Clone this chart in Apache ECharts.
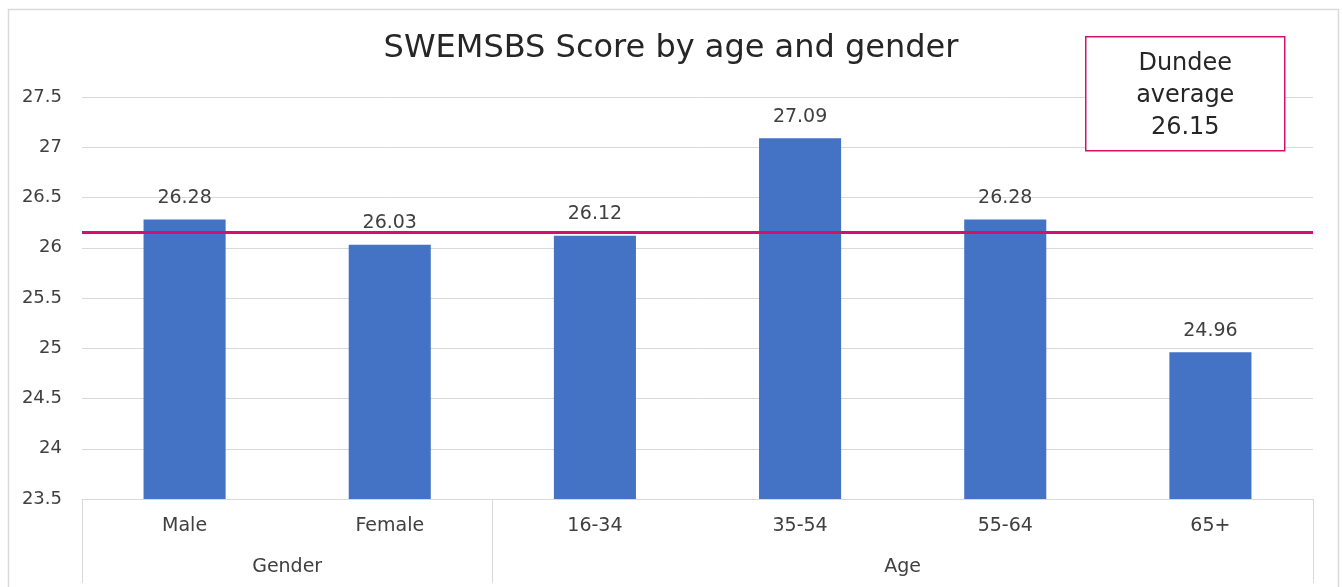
<!DOCTYPE html>
<html>
<head>
<meta charset="utf-8">
<script src="https://cdn.jsdelivr.net/npm/echarts@6/dist/echarts.min.js"></script>
<style>
  html, body { margin: 0; padding: 0; background: #ffffff; }
  #chart { width: 1342px; height: 587px; }
</style>
</head>
<body>
<div id="chart"></div>
<script>
// Mean SWEMWBS scores by gender and age band
const categories = ['Male', 'Female', '16-34', '35-54', '55-64', '65+'];
const scores = [26.28, 26.03, 26.12, 27.09, 26.28, 24.96];
// Group headings on the lower axis row: [label, first index, last index]
const groups = [['Gender', 0, 1], ['Age', 2, 5]];
const cityAverage = 26.15;
const yTicks = { min: 23.5, max: 27.5, step: 0.5 };

const FONT = '"DejaVu Sans", sans-serif';
const GRID_COLOR = '#d9d9d9';
const TEXT_COLOR = '#404040';
const AVG_COLOR = '#d4106f';

// Positions of the group headings and of the group separators on a 0..n scale
const groupLabelPos = groups.map(g => (g[1] + g[2] + 1) / 2);
const groupEdges = [0].concat(groups.map(g => g[2] + 1));

const chart = echarts.init(document.getElementById('chart'));
chart.setOption({
  animation: false,
  backgroundColor: '#ffffff',
  textStyle: { fontFamily: FONT },
  title: {
    text: 'SWEMSBS Score by age and gender',
    left: 'center',
    top: 28,
    textStyle: { fontFamily: FONT, fontSize: 32, fontWeight: 'normal', color: '#262626' }
  },
  grid: { left: 82, right: 29, top: 97, bottom: 88 },
  xAxis: [
    {
      type: 'category',
      data: categories,
      axisLine: { lineStyle: { color: GRID_COLOR, width: 1 } },
      axisTick: { show: false },
      axisLabel: { margin: 18, fontSize: 19, color: TEXT_COLOR, fontFamily: FONT }
    },
    {
      type: 'value',
      position: 'bottom',
      min: 0,
      max: categories.length,
      interval: 1,
      axisLine: { show: false },
      splitLine: { show: false },
      axisTick: {
        show: true,
        customValues: groupEdges,
        length: 84,
        lineStyle: { color: GRID_COLOR, width: 1 }
      },
      axisLabel: {
        customValues: groupLabelPos,
        margin: 59,
        fontSize: 19,
        color: TEXT_COLOR,
        fontFamily: FONT,
        formatter: v => {
          const i = groupLabelPos.indexOf(v);
          return i >= 0 ? groups[i][0] : '';
        }
      }
    }
  ],
  yAxis: {
    type: 'value',
    min: yTicks.min,
    max: yTicks.max,
    interval: yTicks.step,
    axisLine: { show: false },
    axisTick: { show: false },
    splitLine: { lineStyle: { color: GRID_COLOR, width: 1 } },
    axisLabel: { margin: 20, fontSize: 18, color: TEXT_COLOR, fontFamily: FONT }
  },
  series: [
    {
      type: 'bar',
      xAxisIndex: 0,
      data: scores,
      barWidth: '40%',
      itemStyle: { color: '#4472c4' },
      label: {
        show: true,
        position: 'top',
        distance: 12,
        fontSize: 19,
        color: TEXT_COLOR,
        fontFamily: FONT,
        formatter: p => p.value.toFixed(2)
      },
      markLine: {
        silent: true,
        symbol: 'none',
        label: { show: false },
        lineStyle: { color: AVG_COLOR, width: 3, type: 'solid' },
        data: [{ yAxis: cityAverage }]
      }
    }
  ],
  graphic: [
    {
      type: 'rect',
      left: 6,
      top: 7,
      shape: { width: 1330, height: 600 },
      style: { fill: 'none', stroke: GRID_COLOR, lineWidth: 1.5 },
      silent: true,
      z: -10
    },
    {
      type: 'group',
      left: 1085,
      top: 36,
      z: 100,
      children: [
        {
          type: 'rect',
          z: 100,
          shape: { width: 199, height: 114 },
          style: { fill: '#ffffff', stroke: AVG_COLOR, lineWidth: 1.5 }
        },
        {
          type: 'text',
          z: 101,
          x: 99.5,
          y: 59,
          style: {
            text: 'Dundee\naverage\n' + cityAverage.toFixed(2),
            fontFamily: FONT,
            fontSize: 24,
            lineHeight: 32,
            fill: '#262626',
            align: 'center',
            verticalAlign: 'middle'
          }
        }
      ]
    }
  ]
});
</script>
</body>
</html>
